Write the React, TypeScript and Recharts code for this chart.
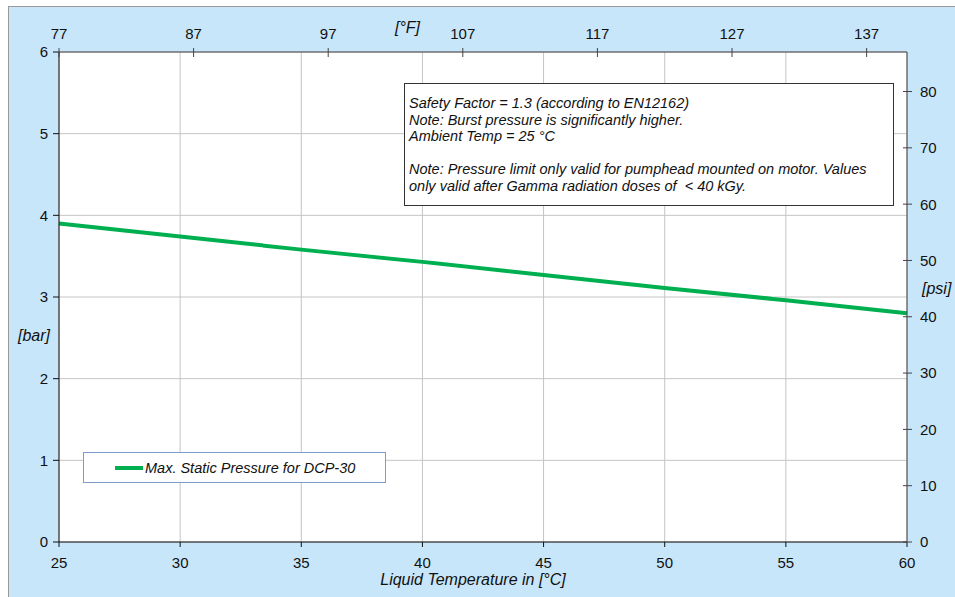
import { LineChart, Line, XAxis, YAxis, CartesianGrid } from 'recharts'

const tempC = [25, 30, 35, 40, 45, 50, 55, 60]
const pressureBar = [3.9, 3.74, 3.58, 3.43, 3.27, 3.11, 2.96, 2.8]

const celsiusTicks = [25, 30, 35, 40, 45, 50, 55, 60]
const fahrenheitTicks = [77, 87, 97, 107, 117, 127, 137]
const barTicks = [0, 1, 2, 3, 4, 5, 6]
const psiTicks = [0, 10, 20, 30, 40, 50, 60, 70, 80]

const noteLines = [
  'Safety Factor = 1.3 (according to EN12162)',
  'Note: Burst pressure is significantly higher.',
  'Ambient Temp = 25 °C',
  '',
  'Note: Pressure limit only valid for pumphead mounted on motor. Values',
  'only valid after Gamma radiation doses of  < 40 kGy.',
]

const seriesName = 'Max. Static Pressure for DCP-30'

// f = same temperature in °F, only used to carry the top axis
const data = tempC.map((t, i) => ({ t, f: (t * 9) / 5 + 32, p: pressureBar[i] }))

const FONT = '"Liberation Sans", Arial, sans-serif'
const GREEN = '#00b050'
const AXIS2 = '#444'
const tick = { fill: '#111', fontSize: 15, fontFamily: FONT }
const italic = { position: 'absolute' as const, fontSize: 16, fontStyle: 'italic', color: '#111', lineHeight: '18px' }

// chart-space edges of the plot (top axis height / chart width - right axis width)
const TOP_EDGE = 45
const RIGHT_EDGE = 946 - 48

// ticks that cross the axis line, like the Excel original
function TopTick(props: any) {
  const { x, payload } = props
  return (
    <g>
      <line x1={x} x2={x} y1={TOP_EDGE - 4} y2={TOP_EDGE + 5} stroke={AXIS2} />
      <text x={x} y={TOP_EDGE - 13} textAnchor="middle" {...tick}>{payload.value}</text>
    </g>
  )
}

function RightTick(props: any) {
  const { y, payload } = props
  return (
    <g>
      <line x1={RIGHT_EDGE - 4} x2={RIGHT_EDGE + 5} y1={y} y2={y} stroke={AXIS2} />
      <text x={RIGHT_EDGE + 13} y={y} dy="0.36em" textAnchor="start" {...tick}>{payload.value}</text>
    </g>
  )
}

export default function App() {
  return (
    <>
      <style>{'html,body{overflow:hidden;}'}</style>
      <div
        style={{
          position: 'fixed',
          left: 8,
          top: 6,
          right: 0,
          bottom: 0,
          background: '#c8e6fa',
          borderTop: '1px solid #9a9a9a',
          borderLeft: '1px solid #9a9a9a',
          fontFamily: FONT,
        }}
      >
        <LineChart width={946} height={590} data={data} margin={{ top: 0, right: 0, bottom: 0, left: 0 }}>
          <CartesianGrid xAxisId="c" yAxisId="bar" stroke="#c4c4c4" fill="#fff" />
          <XAxis
            xAxisId="c"
            dataKey="t"
            type="number"
            domain={[25, 60]}
            ticks={celsiusTicks}
            height={55}
            tick={tick}
            tickSize={5}
            tickMargin={10}
            stroke="#111"
          />
          <XAxis
            xAxisId="f"
            dataKey="f"
            orientation="top"
            type="number"
            domain={[77, 140]}
            ticks={fahrenheitTicks}
            allowDataOverflow
            height={TOP_EDGE}
            tick={<TopTick />}
            tickLine={false}
            stroke={AXIS2}
          />
          <YAxis
            yAxisId="bar"
            type="number"
            domain={[0, 6]}
            ticks={barTicks}
            width={50}
            tick={tick}
            tickSize={6}
            tickMargin={5}
            stroke="#111"
          />
          <YAxis
            yAxisId="psi"
            orientation="right"
            type="number"
            domain={[0, 87.02]}
            ticks={psiTicks}
            allowDataOverflow
            width={48}
            tick={<RightTick />}
            tickLine={false}
            stroke={AXIS2}
          />
          <Line
            xAxisId="f"
            yAxisId="bar"
            dataKey="p"
            stroke="none"
            dot={false}
            activeDot={false}
            legendType="none"
            isAnimationActive={false}
          />
          <Line
            xAxisId="c"
            yAxisId="bar"
            dataKey="p"
            name={seriesName}
            stroke={GREEN}
            strokeWidth={4}
            dot={false}
            isAnimationActive={false}
          />
        </LineChart>

        <div style={{ ...italic, left: 9, top: 320 }}>[bar]</div>
        <div style={{ ...italic, left: 913, top: 273 }}>[psi]</div>
        <div style={{ ...italic, left: 386, top: 12 }}>[°F]</div>
        <div style={{ ...italic, left: 0, width: 946, textAlign: 'center', top: 564 }}>
          <span style={{ marginLeft: -18 }}>Liquid Temperature in [°C]</span>
        </div>

        <div
          style={{
            position: 'absolute',
            left: 74,
            top: 445,
            width: 303,
            height: 31,
            border: '1px solid #7f9cc8',
            background: '#fff',
            display: 'flex',
            alignItems: 'center',
            fontSize: 14.5,
            fontStyle: 'italic',
            color: '#111',
            boxSizing: 'border-box',
          }}
        >
          <span style={{ display: 'inline-block', width: 28, height: 4, background: GREEN, marginLeft: 31, marginRight: 2 }} />
          <span>{seriesName}</span>
        </div>

        <div
          style={{
            position: 'absolute',
            left: 395,
            top: 76,
            width: 490,
            height: 123,
            border: '1px solid #333',
            background: '#fff',
            fontSize: 14.5,
            fontStyle: 'italic',
            color: '#111',
            lineHeight: '16.6px',
            padding: '11px 0 0 4px',
            boxSizing: 'border-box',
            whiteSpace: 'pre',
          }}
        >
          {noteLines.map((l, i) => (
            <div key={i} style={{ height: 16.6 }}>{l}</div>
          ))}
        </div>
      </div>
    </>
  )
}
